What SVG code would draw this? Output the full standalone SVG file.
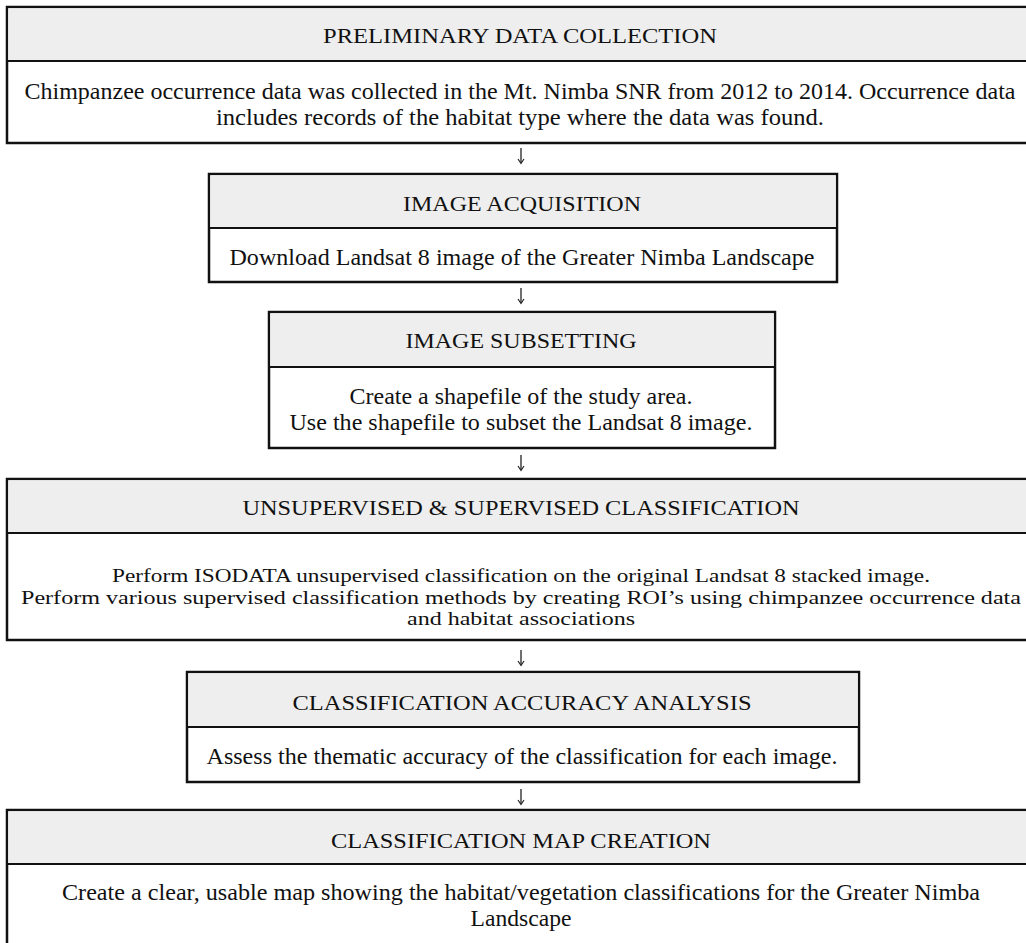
<svg xmlns="http://www.w3.org/2000/svg" width="1026" height="943" viewBox="0 0 1026 943">
  <style>
    .box { fill: #ffffff; stroke: #111111; stroke-width: 2.5; }
    .head { fill: #eeeeee; }
    .rule { stroke: #111111; stroke-width: 2.2; }
    .h { font-family: "Liberation Serif", "Times New Roman", serif; font-size: 20.5px; fill: #111111; text-anchor: middle; }
    .t { font-family: "Liberation Serif", "Times New Roman", serif; font-size: 22.5px; fill: #111111; text-anchor: middle; }
    .s { font-size: 19.5px; }
    .arrow { stroke: #222222; stroke-width: 1.3; fill: none; }
    .tip { stroke: #222222; stroke-width: 1.2; fill: none; }
  </style>
  <rect width="1026" height="943" fill="#ffffff"/>

  <!-- Step 1 -->
  <g id="preliminary-data-collection">
    <rect class="box" x="7" y="7" width="1030" height="136"/>
    <rect class="head" x="8.25" y="8.25" width="1028" height="52.75"/>
    <line class="rule" x1="7" y1="61" x2="1037" y2="61"/>
    <text class="h" x="520" y="43" textLength="394" lengthAdjust="spacingAndGlyphs">PRELIMINARY DATA COLLECTION</text>
    <text class="t" x="520" y="98.5" textLength="991" lengthAdjust="spacingAndGlyphs">Chimpanzee occurrence data was collected in the Mt. Nimba SNR from 2012 to 2014. Occurrence data</text>
    <text class="t" x="520" y="124.5" textLength="608" lengthAdjust="spacingAndGlyphs">includes records of the habitat type where the data was found.</text>
  </g>

  <!-- Step 2 -->
  <g id="image-acquisition">
    <rect class="box" x="209" y="174" width="628" height="108"/>
    <rect class="head" x="210.25" y="175.25" width="625.5" height="52.75"/>
    <line class="rule" x1="209" y1="228" x2="837" y2="228"/>
    <text class="h" x="522" y="211" textLength="238" lengthAdjust="spacingAndGlyphs">IMAGE ACQUISITION</text>
    <text class="t" x="522" y="264.5" textLength="585" lengthAdjust="spacingAndGlyphs">Download Landsat 8 image of the Greater Nimba Landscape</text>
  </g>

  <!-- Step 3 -->
  <g id="image-subsetting">
    <rect class="box" x="269" y="312" width="506" height="136"/>
    <rect class="head" x="270.25" y="313.25" width="503.5" height="53.75"/>
    <line class="rule" x1="269" y1="367" x2="775" y2="367"/>
    <text class="h" x="521" y="348" textLength="231" lengthAdjust="spacingAndGlyphs">IMAGE SUBSETTING</text>
    <text class="t" x="521" y="403.5" textLength="343" lengthAdjust="spacingAndGlyphs">Create a shapefile of the study area.</text>
    <text class="t" x="521" y="429.5" textLength="463" lengthAdjust="spacingAndGlyphs">Use the shapefile to subset the Landsat 8 image.</text>
  </g>

  <!-- Step 4 -->
  <g id="classification">
    <rect class="box" x="7" y="479" width="1030" height="161"/>
    <rect class="head" x="8.25" y="480.25" width="1028" height="52.75"/>
    <line class="rule" x1="7" y1="533" x2="1037" y2="533"/>
    <text class="h" x="521" y="515" textLength="557" lengthAdjust="spacingAndGlyphs">UNSUPERVISED &amp; SUPERVISED CLASSIFICATION</text>
    <text class="t s" x="521" y="582" textLength="818" lengthAdjust="spacingAndGlyphs">Perform ISODATA unsupervised classification on the original Landsat 8 stacked image.</text>
    <text class="t s" x="521" y="603.5" textLength="1000" lengthAdjust="spacingAndGlyphs">Perform various supervised classification methods by creating ROI’s using chimpanzee occurrence data</text>
    <text class="t s" x="521" y="625" textLength="228" lengthAdjust="spacingAndGlyphs">and habitat associations</text>
  </g>

  <!-- Step 5 -->
  <g id="accuracy-analysis">
    <rect class="box" x="187" y="672" width="672" height="110"/>
    <rect class="head" x="188.25" y="673.25" width="669.5" height="53.75"/>
    <line class="rule" x1="187" y1="727" x2="859" y2="727"/>
    <text class="h" x="522" y="710" textLength="459" lengthAdjust="spacingAndGlyphs">CLASSIFICATION ACCURACY ANALYSIS</text>
    <text class="t" x="522" y="763.5" textLength="631" lengthAdjust="spacingAndGlyphs">Assess the thematic accuracy of the classification for each image.</text>
  </g>

  <!-- Step 6 -->
  <g id="map-creation">
    <rect class="box" x="7" y="810" width="1030" height="150"/>
    <rect class="head" x="8.25" y="811.25" width="1028" height="52.75"/>
    <line class="rule" x1="7" y1="864" x2="1037" y2="864"/>
    <text class="h" x="521" y="848" textLength="380" lengthAdjust="spacingAndGlyphs">CLASSIFICATION MAP CREATION</text>
    <text class="t" x="521" y="899.5" textLength="918" lengthAdjust="spacingAndGlyphs">Create a clear, usable map showing the habitat/vegetation classifications for the Greater Nimba</text>
    <text class="t" x="521" y="925.5" textLength="101" lengthAdjust="spacingAndGlyphs">Landscape</text>
  </g>

  <!-- Flow arrows between steps: shaft plus a small open head -->
  <g id="connectors">
    <line class="arrow" x1="521" y1="148" x2="521" y2="163"/>
    <path class="tip" d="M518,159 L521,163.5 L524,159"/>
    <line class="arrow" x1="521" y1="288" x2="521" y2="303"/>
    <path class="tip" d="M518,299 L521,303.5 L524,299"/>
    <line class="arrow" x1="521" y1="455" x2="521" y2="470"/>
    <path class="tip" d="M518,466 L521,470.5 L524,466"/>
    <line class="arrow" x1="521" y1="650" x2="521" y2="665"/>
    <path class="tip" d="M518,661 L521,665.5 L524,661"/>
    <line class="arrow" x1="521" y1="789" x2="521" y2="804"/>
    <path class="tip" d="M518,800 L521,804.5 L524,800"/>
  </g>
</svg>
